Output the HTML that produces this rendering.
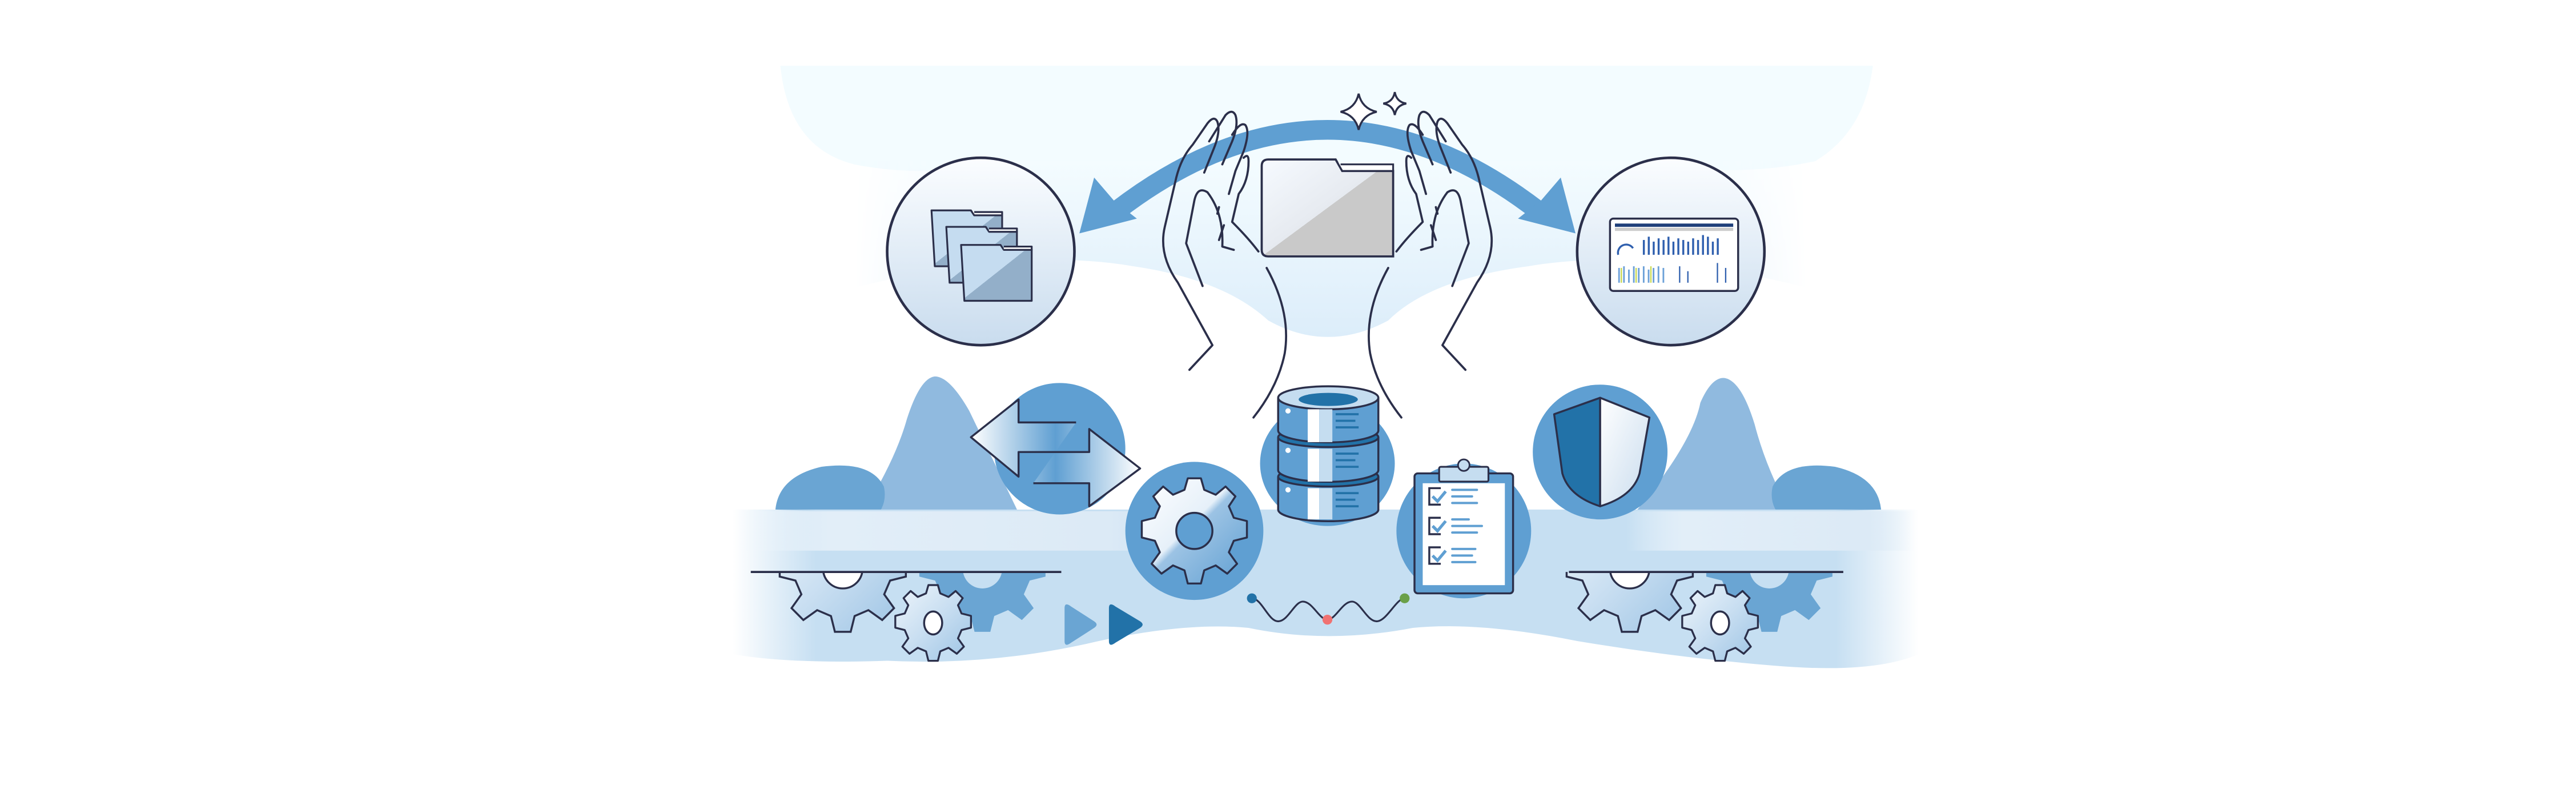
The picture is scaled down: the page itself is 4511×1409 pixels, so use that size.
<!DOCTYPE html>
<html><head><meta charset="utf-8"><style>html,body{margin:0;padding:0;background:#fff;overflow:hidden}svg{display:block}</style></head>
<body>
<svg width="4511" height="1409" viewBox="0 0 1568 489.75" xmlns="http://www.w3.org/2000/svg">
<defs>
<linearGradient id="cg" x1="0" y1="0" x2="0" y2="1"><stop offset="0" stop-color="#fbfdff"/><stop offset="1" stop-color="#c9dcee"/></linearGradient>
<linearGradient id="bgl" x1="0" y1="0" x2="0" y2="1"><stop offset="0" stop-color="#f4fcff"/><stop offset="1" stop-color="#dcedfa"/></linearGradient>
<linearGradient id="hf" x1="0" y1="0" x2="1" y2="0"><stop offset="0" stop-color="#fff" stop-opacity="0"/><stop offset="0.15" stop-color="#fff"/><stop offset="0.85" stop-color="#fff"/><stop offset="1" stop-color="#fff" stop-opacity="0"/></linearGradient>
<mask id="hm"><rect x="520" y="90" width="580" height="130" fill="url(#hf)"/></mask>
<linearGradient id="band" x1="0" y1="0" x2="1" y2="0"><stop offset="0" stop-color="#c6dff2" stop-opacity="0"/><stop offset="0.07" stop-color="#c6dff2"/><stop offset="0.93" stop-color="#c6dff2"/><stop offset="1" stop-color="#c6dff2" stop-opacity="0"/></linearGradient>
<linearGradient id="wl" x1="0" y1="0" x2="1" y2="0"><stop offset="0" stop-color="#f2f8fd" stop-opacity="0"/><stop offset="0.2" stop-color="#e2eef8"/><stop offset="0.8" stop-color="#dceaf6"/><stop offset="1" stop-color="#dceaf6" stop-opacity="0"/></linearGradient>
<linearGradient id="arr" x1="0" y1="0" x2="1" y2="0"><stop offset="0" stop-color="#fff"/><stop offset="0.5" stop-color="#5f9fd2"/><stop offset="1" stop-color="#fff"/></linearGradient>
<linearGradient id="fold" x1="0" y1="0" x2="1" y2="1"><stop offset="0" stop-color="#f6faff"/><stop offset="0.5" stop-color="#e6eaf0"/><stop offset="0.5" stop-color="#c9c9c9"/><stop offset="1" stop-color="#c9c9c9"/></linearGradient>
<linearGradient id="foldb" x1="0" y1="0" x2="1" y2="1"><stop offset="0" stop-color="#c5dcf0"/><stop offset="0.5" stop-color="#c5dcf0"/><stop offset="0.5" stop-color="#93afc9"/><stop offset="1" stop-color="#93afc9"/></linearGradient>
<linearGradient id="gear" x1="0" y1="0" x2="1" y2="1"><stop offset="0" stop-color="#ffffff"/><stop offset="0.45" stop-color="#e6f0f9"/><stop offset="0.5" stop-color="#9cc3e4"/><stop offset="1" stop-color="#5f9fd2"/></linearGradient>
<linearGradient id="gearL" x1="0" y1="0" x2="1" y2="1"><stop offset="0" stop-color="#eef5fb"/><stop offset="0.5" stop-color="#c8def1"/><stop offset="1" stop-color="#9cc3e4"/></linearGradient>
<linearGradient id="sh" x1="0" y1="0" x2="1" y2="1"><stop offset="0" stop-color="#fff"/><stop offset="1" stop-color="#c9dcee"/></linearGradient>
<clipPath id="below"><rect x="0" y="348" width="1568" height="100"/></clipPath>
<path id="g10" d="M-4,-32 L4,-32 L6,-25 L13,-22 L19,-27 L25,-21 L21,-15 L24,-8 L32,-6 L32,4 L24,6 L21,13 L26,20 L20,26 L13,21 L6,24 L4,32 L-4,32 L-6,24 L-13,21 L-20,26 L-26,20 L-21,13 L-24,6 L-32,4 L-32,-6 L-24,-8 L-21,-15 L-25,-21 L-19,-27 L-13,-22 L-6,-25 Z"/>
</defs>
<!-- top light cloud -->
<path d="M475,40 L1140,40 Q1135,80 1105,98 Q1060,108 1000,100 Q960,110 900,102 L700,102 Q640,108 600,100 Q560,108 520,100 Q480,90 475,40 Z" fill="#f3fcff"/>
<!-- light bg behind circles -->
<path mask="url(#hm)" d="M520,98 L1100,98 L1100,175 Q1000,150 930,162 Q870,170 845,195 Q808,215 772,195 Q745,170 690,162 Q620,150 520,175 Z" fill="url(#bgl)"/>
<!-- arc arrow -->
<path d="M680,128 Q808,30 936,128" fill="none" stroke="#5f9fd2" stroke-width="12"/>
<polygon points="657,142 666,108 678,122 692,133" fill="#5f9fd2"/>
<polygon points="959,142 950,108 938,122 924,133" fill="#5f9fd2"/>
<!-- left circle -->
<circle cx="597" cy="153" r="57" fill="url(#cg)" stroke="#2b2f4a" stroke-width="1.6"/>
<g stroke="#2b2f4a" stroke-width="1.1" stroke-linejoin="round">
<g><path d="M567,128 h24 l2,3 h17 v31 h-41 z" fill="url(#foldb)"/><path d="M591,128 l2,3 h17 v-2 h-17" fill="#fff"/></g>
<g transform="translate(9,10)"><path d="M567,128 h24 l2,3 h17 v31 h-41 z" fill="url(#foldb)"/><path d="M593,131 h17 v-2 h-17" fill="#fff"/></g>
<g transform="translate(18,21)"><path d="M567,128 h24 l2,3 h17 v31 h-41 z" fill="url(#foldb)"/><path d="M593,131 h17 v-2 h-17" fill="#fff"/></g>
</g>
<!-- right circle -->
<circle cx="1017" cy="153" r="57" fill="url(#cg)" stroke="#2b2f4a" stroke-width="1.6"/>
<rect x="980" y="133" width="78" height="44" rx="2" fill="#fff" stroke="#2b2f4a" stroke-width="1.2"/>
<rect x="983" y="136" width="72" height="2" fill="#1f3f7a"/>
<rect x="983" y="138.5" width="72" height="2" fill="#ccc"/>
<g fill="#2f5fae"><rect x="1000" y="146" width="1.2" height="9"/><rect x="1003" y="144" width="1.2" height="11"/><rect x="1006" y="147" width="1.2" height="8"/><rect x="1009" y="145" width="1.2" height="10"/><rect x="1012" y="146" width="1.2" height="9"/><rect x="1015" y="144" width="1.2" height="11"/><rect x="1018" y="147" width="1.2" height="8"/><rect x="1021" y="145" width="1.2" height="10"/><rect x="1024" y="146" width="1.2" height="9"/><rect x="1027" y="147" width="1.2" height="8"/><rect x="1030" y="145" width="1.2" height="10"/><rect x="1033" y="146" width="1.2" height="9"/><rect x="1036" y="143" width="1.2" height="12"/><rect x="1039" y="144" width="1.2" height="11"/><rect x="1042" y="147" width="1.2" height="8"/><rect x="1045" y="145" width="1.2" height="10"/></g>
<path d="M985,155 a5,5 0 0 1 9,-4" fill="none" stroke="#2f5fae" stroke-width="1.2"/>
<g fill="#6ca0d8"><rect x="985" y="163" width="1" height="9"/><rect x="988" y="162" width="1" height="10"/><rect x="991" y="164" width="1" height="8"/><rect x="994" y="162" width="1" height="10"/><rect x="997" y="163" width="1" height="9"/><rect x="1000" y="162" width="1" height="10"/><rect x="1003" y="164" width="1" height="8"/><rect x="1006" y="163" width="1" height="9"/><rect x="1009" y="162" width="1" height="10"/><rect x="1012" y="163" width="1" height="9"/></g>
<g fill="#c9d94f"><rect x="986.5" y="163" width="0.8" height="9"/><rect x="995.5" y="163" width="0.8" height="9"/><rect x="1004.5" y="162" width="0.8" height="10"/></g>
<g fill="#2f5fae"><rect x="1022" y="162" width="0.8" height="10"/><rect x="1027" y="165" width="0.8" height="7"/><rect x="1045" y="160" width="0.8" height="12"/><rect x="1050" y="163" width="0.8" height="9"/></g>
<!-- central folder -->
<path d="M768,101 q0,-4 4,-4 h41 l4,7 h31 v52 h-76 q-4,0 -4,-4 z" fill="url(#fold)" stroke="#2b2f4a" stroke-width="1.3"/>
<path d="M813,97 l4,7 h31 v-4 h-32" fill="#fff" stroke="#2b2f4a" stroke-width="1.1"/>
<!-- sparkles -->
<path d="M827,57 Q829,66 838,68 Q829,70 827,79 Q825,70 816,68 Q825,66 827,57 Z" fill="#fff" stroke="#2b2f4a" stroke-width="1.2"/>
<path d="M849,56 Q850,62 856,63 Q850,64 849,70 Q848,64 842,63 Q848,62 849,56 Z" fill="#fff" stroke="#2b2f4a" stroke-width="1.2"/>
<!-- hands -->
<g id="hand" fill="none" stroke="#2b2f4a" stroke-width="1.3" stroke-linecap="round" stroke-linejoin="round">
<path d="M724,225 L738,210 L717,172 Q705,155 709,138 L716,108 Q719,96 726,88 L735,75 Q739,70 741,74 Q743,80 739,90 L733,105"/>
<path d="M736,86 L746,70 Q750,66 752,70 Q754,76 750,86 L744,100"/>
<path d="M750,82 Q755,74 758,76 Q761,80 757,92 L752,104 L748,118"/>
<path d="M742,146 L745,137 M741,130 L742,126"/>
<path d="M757,96 Q760,93 760,98 Q760,110 754,118 L750,135 Q760,145 766,153"/>
<path d="M732,174 L722,148 L727,122 Q729,113 735,117 Q745,130 744,150 L751,152"/>
<path d="M771,163 Q786,190 782,215 Q778,235 763,254"/>
</g>
<use href="#hand" transform="translate(1616,0) scale(-1,1)"/>
<!-- lower hills -->
<path d="M525,312 Q545,280 552,255 Q560,230 569,229 Q578,229 590,250 L620,312 Z" fill="#90badf"/>
<path d="M472,310 Q474,290 500,284 Q530,280 538,296 Q540,305 535,312 Z" fill="#6aa5d3"/>
<path d="M995,312 Q1030,270 1035,245 Q1042,229 1050,230 Q1060,232 1068,258 Q1075,285 1090,312 Z" fill="#90badf"/>
<path d="M1145,310 Q1143,290 1117,284 Q1087,280 1079,296 Q1077,305 1082,312 Z" fill="#6aa5d3"/>
<!-- band -->
<path d="M446,310 L1168,310 L1168,398 Q1140,410 1080,405 Q1020,400 960,390 Q900,378 860,382 Q808,392 760,382 Q720,378 660,392 Q600,405 540,402 Q480,404 446,398 Z" fill="url(#band)"/>
<rect x="450" y="311" width="280" height="24" fill="url(#wl)"/>
<rect x="990" y="311" width="175" height="24" fill="url(#wl)"/>
<!-- blue circles -->
<circle cx="645" cy="273" r="40" fill="#5f9fd2"/>
<circle cx="974" cy="275" r="41" fill="#5f9fd2"/>
<ellipse cx="808" cy="282" rx="41" ry="38" fill="#5f9fd2"/>
<circle cx="727" cy="323" r="42" fill="#5f9fd2"/>
<circle cx="891" cy="323" r="41" fill="#5f9fd2"/>
<!-- double arrow -->
<path d="M655,257 L620,257 L620,243 L591,266 L620,290 L620,275 L663,275 L663,261 L694,285 L663,308 L663,294 L629,294" fill="url(#arr)" stroke="#2b2f4a" stroke-width="1.2" stroke-linejoin="round"/>
<!-- gear -->
<g transform="translate(727,323)">
<use href="#g10" fill="url(#gear)" stroke="#2b2f4a" stroke-width="1.2" stroke-linejoin="round"/>
<circle r="11" fill="#5f9fd2" stroke="#2b2f4a" stroke-width="1.2"/>
</g>
<!-- database -->
<g stroke="#2b2f4a" stroke-width="1.2">
<path d="M778,290 v20 a30,7 0 0 0 61,0 v-20" fill="#5f9fd2"/>
<ellipse cx="808.5" cy="290" rx="30.5" ry="6" fill="#2272a8"/>
<path d="M778,266 v20 a30,7 0 0 0 61,0 v-20" fill="#5f9fd2"/>
<ellipse cx="808.5" cy="266" rx="30.5" ry="6" fill="#2272a8"/>
<path d="M778,242 v20 a30,7 0 0 0 61,0 v-20" fill="#5f9fd2"/>
<ellipse cx="808.5" cy="242" rx="30.5" ry="7" fill="#c5ddf0"/>
<ellipse cx="808.5" cy="243" rx="18" ry="4" fill="#2272a8" stroke="none"/>
</g>
<g fill="#fff"><rect x="796" y="249" width="7" height="20"/><rect x="796" y="273" width="7" height="20"/><rect x="796" y="297" width="7" height="19"/></g>
<g fill="#c5ddf0"><rect x="803" y="249" width="8" height="20"/><rect x="803" y="273" width="8" height="20"/><rect x="803" y="297" width="8" height="19"/></g>
<g fill="#fff"><circle cx="784" cy="250" r="1.6"/><circle cx="784" cy="274" r="1.6"/><circle cx="784" cy="298" r="1.6"/></g>
<g stroke="#2272a8" stroke-width="1.3"><path d="M813,252 h14 M813,256 h12 M813,260 h14 M813,276 h14 M813,280 h12 M813,284 h14 M813,300 h14 M813,304 h12 M813,308 h14"/></g>
<!-- clipboard -->
<rect x="861" y="288" width="60" height="73" rx="2" fill="#5f9fd2" stroke="#2b2f4a" stroke-width="1.2"/>
<rect x="866" y="294" width="50" height="62" fill="#fff"/>
<rect x="876" y="284" width="30" height="9" rx="1" fill="#c5ddf0" stroke="#2b2f4a" stroke-width="1.1"/>
<circle cx="891" cy="283" r="3.5" fill="#c5ddf0" stroke="#2b2f4a" stroke-width="1"/>
<g fill="none" stroke="#2b2f4a" stroke-width="1.2"><path d="M877,297 h-7 v10 h7 M877,315 h-7 v10 h7 M877,333 h-7 v10 h7"/></g>
<g fill="none" stroke="#5f9fd2" stroke-width="1.8"><path d="M872,302 l3,3 l5,-6 M872,320 l3,3 l5,-6 M872,338 l3,3 l5,-6"/></g>
<g stroke="#5f9fd2" stroke-width="1.4" stroke-linecap="round"><path d="M884,298 h15 M884,302 h12 M884,306 h15 M884,316 h10 M884,320 h18 M884,324 h15 M884,334 h14 M884,338 h12 M884,342 h14"/></g>
<!-- shield -->
<path d="M974,242 L946,252 L951,288 Q955,302 974,308 Z" fill="#2272a8" stroke="#2b2f4a" stroke-width="1.2" stroke-linejoin="round"/>
<path d="M974,242 L1004,254 L998,288 Q994,302 974,308 Z" fill="url(#sh)" stroke="#2b2f4a" stroke-width="1.2" stroke-linejoin="round"/>
<!-- gears rows -->
<g id="grow">
<g clip-path="url(#below)">
<use href="#g10" transform="translate(598,346) scale(1.2)" fill="#6aa5d3"/>
<circle cx="598" cy="346" r="12" fill="#c6dff2"/>
<use href="#g10" transform="translate(513,346) scale(1.2)" fill="url(#gearL)" stroke="#2b2f4a" stroke-width="1"/>
<circle cx="513" cy="346" r="12" fill="#fff" stroke="#2b2f4a" stroke-width="1.2"/>
</g>
<g transform="translate(568,379)">
<use href="#g10" transform="scale(0.72)" fill="url(#gearL)" stroke="#2b2f4a" stroke-width="1.6" stroke-linejoin="round"/>
<ellipse rx="5.5" ry="7" fill="#fff" stroke="#2b2f4a" stroke-width="1.2"/>
</g>
</g>
<use href="#grow" transform="translate(479,0)"/>
<line x1="457" y1="348" x2="646" y2="348" stroke="#2b2f4a" stroke-width="1.3"/>
<line x1="955" y1="348" x2="1122" y2="348" stroke="#2b2f4a" stroke-width="1.3"/>
<!-- play triangles -->
<path d="M648,370 Q648,366 652,369 L666,378 Q669,380 666,382 L652,391 Q648,394 648,390 Z" fill="#6aa5d3"/>
<path d="M675,370 Q675,366 679,369 L694,378 Q697,380 694,382 L679,391 Q675,394 675,390 Z" fill="#2272a8"/>
<!-- wave -->
<path d="M762,364 C768,364 772,378 778,378 C784,378 788,366 793,366 C799,366 803,377 808,377 C813,377 817,366 823,366 C828,366 832,378 838,378 C844,378 850,364 855,364" fill="none" stroke="#2b2f4a" stroke-width="1.1"/>
<circle cx="762" cy="364" r="3" fill="#2272a8"/>
<circle cx="808" cy="377" r="3" fill="#f07272"/>
<circle cx="855" cy="364" r="3" fill="#6aa048"/>
</svg>
</body></html>
